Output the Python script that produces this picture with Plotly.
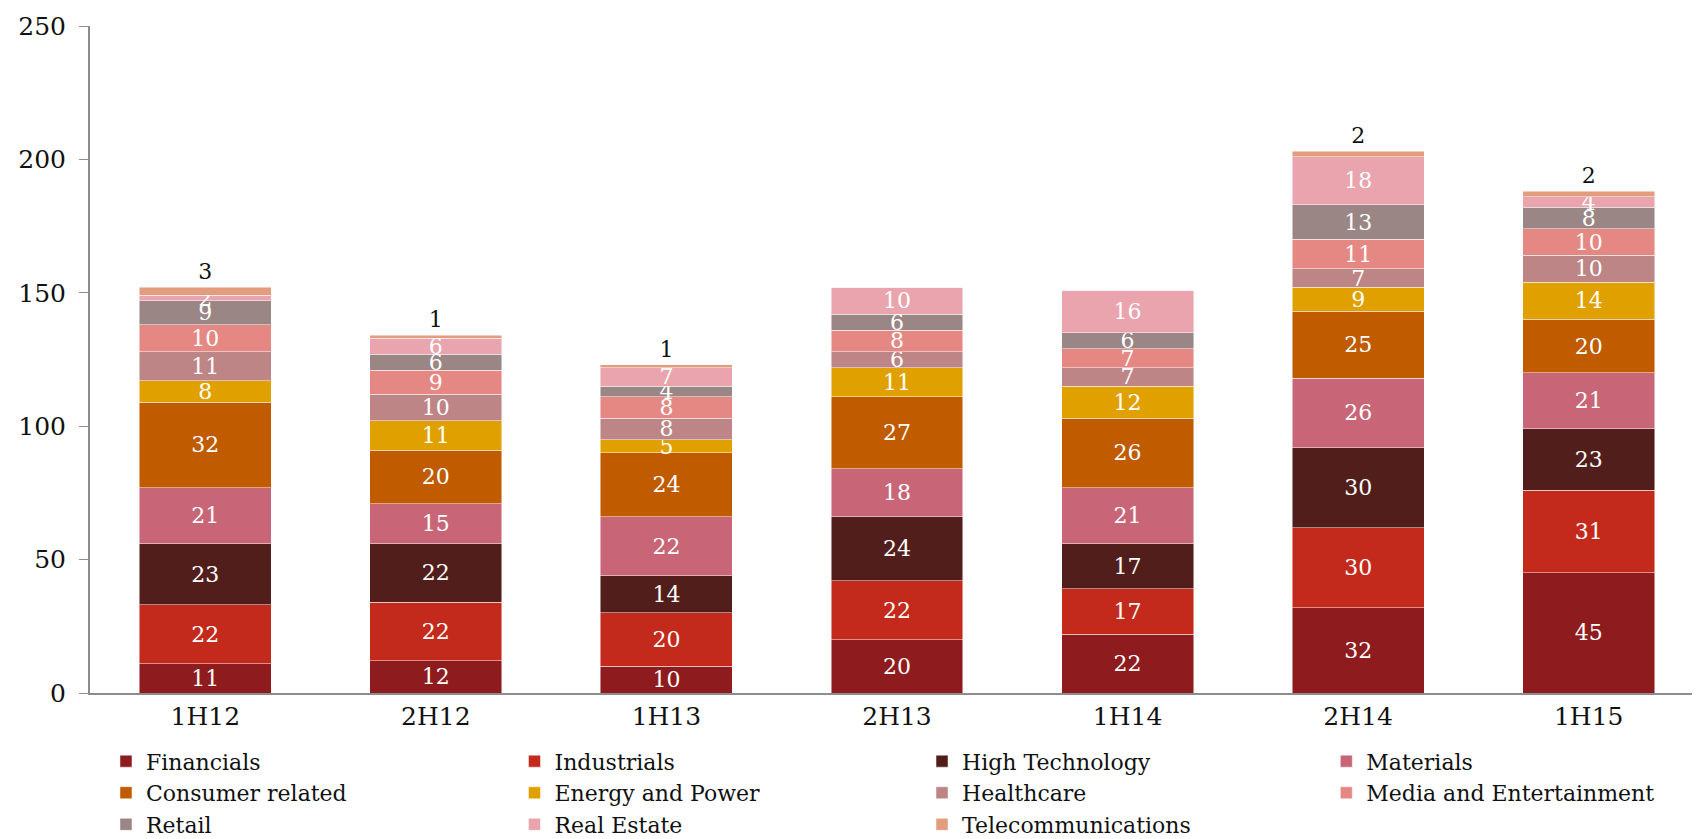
import plotly.graph_objects as go

periods = ["1H12", "2H12", "1H13", "2H13", "1H14", "2H14", "1H15"]

financials = [11, 12, 10, 20, 22, 32, 45]
industrials = [22, 22, 20, 22, 17, 30, 31]
high_tech = [23, 22, 14, 24, 17, 30, 23]
materials = [21, 15, 22, 18, 21, 26, 21]
consumer = [32, 20, 24, 27, 26, 25, 20]
energy = [8, 11, 5, 11, 12, 9, 14]
healthcare = [11, 10, 8, 6, 7, 7, 10]
media = [10, 9, 8, 8, 7, 11, 10]
retail = [9, 6, 4, 6, 6, 13, 8]
real_estate = [2, 6, 7, 10, 16, 18, 4]
telecom = [3, 1, 1, 0, 0, 2, 2]

series = [
    ("Financials", financials, "#8e1b1d"),
    ("Industrials", industrials, "#c42a1c"),
    ("High Technology", high_tech, "#521e1b"),
    ("Materials", materials, "#c86677"),
    ("Consumer related", consumer, "#c05b00"),
    ("Energy and Power", energy, "#e0a100"),
    ("Healthcare", healthcare, "#bd8585"),
    ("Media and Entertainment", media, "#e58883"),
    ("Retail", retail, "#9a8685"),
    ("Real Estate", real_estate, "#e9a4ad"),
    ("Telecommunications", telecom, "#e39c7d"),
]

FONT = "DejaVu Serif"
legend_ids = ["legend", "legend2", "legend3", "legend4"]
legend_x = [0.0099, 0.263, 0.5155, 0.766]

fig = go.Figure()
for i, (name, vals, color) in enumerate(series):
    is_top = name == "Telecommunications"
    fig.add_trace(go.Bar(
        name=name,
        x=periods,
        y=vals,
        legend=legend_ids[i % 4],
        marker=dict(color=color, line=dict(color="rgba(255,255,255,0.6)", width=0.8)),
        text=[str(v) if v else "" for v in vals],
        textposition="outside" if is_top else "inside",
        insidetextanchor="middle",
        constraintext="none",
        textangle=0,
        cliponaxis=False,
        textfont=dict(family=FONT, size=22, color="#111111" if is_top else "white"),
        hoverinfo="x+y+name",
    ))

legend_common = dict(
    orientation="v",
    xanchor="left",
    y=-0.071,
    yanchor="top",
    traceorder="normal",
    font=dict(family=FONT, size=22, color="#111111"),
    itemwidth=30,
    tracegroupgap=0,
    bgcolor="rgba(0,0,0,0)",
)

fig.update_layout(
    barmode="stack",
    bargap=0.428,
    width=1700,
    height=839,
    paper_bgcolor="white",
    plot_bgcolor="white",
    margin=dict(l=82, r=4, t=18, b=154, autoexpand=False),
    font=dict(family=FONT, size=22, color="#111111"),
    showlegend=True,
    legend=dict(x=legend_x[0], **legend_common),
    legend2=dict(x=legend_x[1], **legend_common),
    legend3=dict(x=legend_x[2], **legend_common),
    legend4=dict(x=legend_x[3], **legend_common),
    uniformtext=dict(mode="show", minsize=8),
)

fig.update_xaxes(
    range=[-0.5, 6.5],
    showline=True,
    linecolor="#8c8c8c",
    linewidth=2,
    ticks="",
    showgrid=False,
    tickfont=dict(family=FONT, size=25, color="#111111"),
)
fig.update_yaxes(
    range=[0, 250],
    tickvals=[0, 50, 100, 150, 200, 250],
    showline=True,
    linecolor="#8c8c8c",
    linewidth=2,
    ticks="outside",
    ticklen=9,
    tickcolor="#8c8c8c",
    ticklabelstandoff=8,
    showgrid=False,
    zeroline=False,
    tickfont=dict(family=FONT, size=25, color="#111111"),
)

fig.write_html("out.html")
